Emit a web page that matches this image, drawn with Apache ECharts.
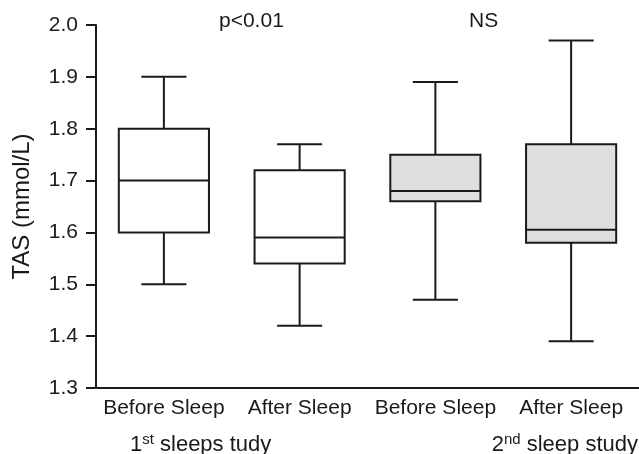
<!DOCTYPE html>
<html>
<head>
<meta charset="utf-8">
<script src="https://cdn.jsdelivr.net/npm/echarts@6/dist/echarts.min.js"></script>
<style>html,body{margin:0;padding:0;background:#fff;}#c{width:639px;height:454px;}</style>
</head>
<body>
<div id="c"></div>
<script>
var categories = ['Before Sleep', 'After Sleep', 'Before Sleep', 'After Sleep'];
var whiskerLow = [1.50, 1.42, 1.47, 1.39];
var q1 = [1.60, 1.54, 1.66, 1.58];
var median = [1.70, 1.59, 1.68, 1.605];
var q3 = [1.80, 1.72, 1.75, 1.77];
var whiskerHigh = [1.90, 1.77, 1.89, 1.97];
var boxFill = ['#ffffff', '#ffffff', '#dedede', '#dedede'];
var yTicks = [1.3, 1.4, 1.5, 1.6, 1.7, 1.8, 1.9, 2.0];

var FONT = '"Liberation Sans", Arial, Helvetica, sans-serif';
var INK = '#1a1a1a';
var data = categories.map(function (c, i) {
  return [i, whiskerLow[i], q1[i], median[i], q3[i], whiskerHigh[i]];
});

var chart = echarts.init(document.getElementById('c'));
chart.setOption({
  animation: false,
  backgroundColor: '#fff',
  grid: { left: 96, top: 25, width: 548, height: 363 },
  xAxis: {
    type: 'category',
    data: categories,
    axisLine: { lineStyle: { color: INK, width: 2 } },
    axisTick: { show: false },
    axisLabel: { color: INK, fontFamily: FONT, fontSize: 21, margin: 10, interval: 0 }
  },
  yAxis: {
    type: 'value',
    min: 1.3, max: 2.0, interval: 0.1,
    name: 'TAS (mmol/L)',
    nameLocation: 'middle',
    nameGap: 62,
    nameTextStyle: { color: INK, fontFamily: FONT, fontSize: 24 },
    axisLine: { show: true, lineStyle: { color: INK, width: 2 } },
    axisTick: { show: true, length: 10, lineStyle: { color: INK, width: 2 } },
    splitLine: { show: false },
    axisLabel: {
      color: INK, fontFamily: FONT, fontSize: 21, margin: 18,
      formatter: function (v) {
        for (var k = 0; k < yTicks.length; k++) { if (Math.abs(yTicks[k] - v) < 1e-6) return yTicks[k].toFixed(1); }
        return '';
      }
    }
  },
  series: [{
    type: 'custom',
    data: data,
    encode: { x: 0, y: [1, 2, 3, 4, 5] },
    renderItem: function (params, api) {
      var idx = api.value(0);
      var band = api.size([1, 0])[0];
      var bw = band * 0.664;
      var cw = bw * 0.5;
      var pLow = api.coord([idx, api.value(1)]);
      var pQ1 = api.coord([idx, api.value(2)]);
      var pMed = api.coord([idx, api.value(3)]);
      var pQ3 = api.coord([idx, api.value(4)]);
      var pHigh = api.coord([idx, api.value(5)]);
      var x = pMed[0];
      var st = { stroke: INK, lineWidth: 2, fill: null };
      return {
        type: 'group',
        children: [
          { type: 'line', shape: { x1: x, y1: pHigh[1], x2: x, y2: pQ3[1] }, style: st },
          { type: 'line', shape: { x1: x, y1: pQ1[1], x2: x, y2: pLow[1] }, style: st },
          { type: 'line', shape: { x1: x - cw / 2, y1: pHigh[1], x2: x + cw / 2, y2: pHigh[1] }, style: st },
          { type: 'line', shape: { x1: x - cw / 2, y1: pLow[1], x2: x + cw / 2, y2: pLow[1] }, style: st },
          { type: 'rect', shape: { x: x - bw / 2, y: pQ3[1], width: bw, height: pQ1[1] - pQ3[1] },
            style: { fill: boxFill[idx], stroke: INK, lineWidth: 2 } },
          { type: 'line', shape: { x1: x - bw / 2, y1: pMed[1], x2: x + bw / 2, y2: pMed[1] }, style: st }
        ]
      };
    }
  }],
  graphic: [
    { type: 'text', left: 219, top: 11, style: { text: 'p<0.01', font: '21px ' + FONT, fill: INK } },
    { type: 'text', left: 469, top: 11, style: { text: 'NS', font: '21px ' + FONT, fill: INK } },
    { type: 'text', left: 130, top: 432, style: {
        text: '{n|1}{s|st}{n| sleeps tudy}',
        rich: { n: { fontFamily: FONT, fontSize: 22, fill: INK, verticalAlign: 'bottom' },
                s: { fontFamily: FONT, fontSize: 15, fill: INK, verticalAlign: 'top', padding: [0, 0, 9, 0] } } } },
    { type: 'text', right: 1, top: 432, style: {
        text: '{n|2}{s|nd}{n| sleep study}',
        rich: { n: { fontFamily: FONT, fontSize: 22, fill: INK, verticalAlign: 'bottom' },
                s: { fontFamily: FONT, fontSize: 15, fill: INK, verticalAlign: 'top', padding: [0, 0, 9, 0] } } } }
  ]
});
</script>
</body>
</html>
